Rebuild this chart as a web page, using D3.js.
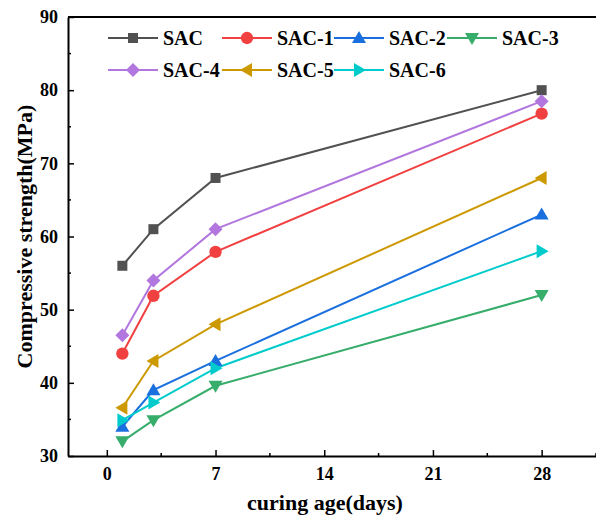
<!DOCTYPE html>
<html>
<head>
<meta charset="utf-8">
<script src="https://cdn.jsdelivr.net/npm/d3@7"></script>
<style>
  body { margin: 0; background: #fff; }
  svg text { font-family: "Liberation Serif", "Times New Roman", serif; font-weight: bold; }
</style>
</head>
<body>
<div id="chart"></div>
<script>
// curing ages (days)
const days = [1, 3, 7, 28];
const seriesNames = ["SAC", "SAC-1", "SAC-2", "SAC-3", "SAC-4", "SAC-5", "SAC-6"];
const sac  = [56, 61, 68, 80];
const sac1 = [44, 51.9, 57.9, 76.8];
const sac2 = [34, 39, 43, 63];
const sac3 = [32, 34.9, 39.6, 52];
const sac4 = [46.5, 54, 61, 78.5];
const sac5 = [36.6, 43, 48, 68];
const sac6 = [34.9, 37.3, 42, 58];
const xTicks = [0, 7, 14, 21, 28];
const yTicks = [30, 40, 50, 60, 70, 80, 90];

const colors = ["#515151", "#F14040", "#1A6FDF", "#37AD6B", "#B177DE", "#CC9900", "#00CBCC"];
const symbols = ["square", "circle", "up", "down", "diamond", "left", "right"];
const allValues = [sac, sac1, sac2, sac3, sac4, sac5, sac6];

const series = seriesNames.map((name, i) => ({
    name: name,
    color: colors[i],
    symbol: symbols[i],
    values: days.map((d, j) => ({ day: d, value: allValues[i][j] }))
}));

const w = 596, h = 518;
const margin = { top: 17, right: 0, bottom: 62, left: 68 };

const svg = d3.select("#chart").append("svg")
    .attr("width", w)
    .attr("height", h);

const xScale = d3.scaleLinear()
    .domain([-2.5, 31.5])
    .range([margin.left, w - margin.right]);
const yScale = d3.scaleLinear()
    .domain([30, 90])
    .range([h - margin.bottom, margin.top]);

// marker shapes
function markerPath(sym) {
    const s = 6;
    switch (sym) {
        case "square": return `M${-5},${-5}H5V5H-5Z`;
        case "circle": return d3.symbol(d3.symbolCircle, 120)();
        case "up": return `M0,${-s - 1}L${s + 1},${s - 1}L${-s - 1},${s - 1}Z`;
        case "down": return `M0,${s + 1}L${s + 1},${-s + 1}L${-s - 1},${-s + 1}Z`;
        case "diamond": return `M0,${-s - 1}L${s + 1},0L0,${s + 1}L${-s - 1},0Z`;
        case "left": return `M${-s - 1},0L${s - 1},${-s - 1}L${s - 1},${s + 1}Z`;
        case "right": return `M${s + 1},0L${-s + 1},${-s - 1}L${-s + 1},${s + 1}Z`;
    }
}

// axes
const xAxis = d3.axisBottom(xScale).tickValues(xTicks).tickSizeInner(-6).tickSizeOuter(0).tickPadding(11);
const yAxis = d3.axisLeft(yScale).tickValues(yTicks).tickSizeInner(-6).tickSizeOuter(0).tickPadding(10);

const xAxisG = svg.append("g")
    .attr("transform", `translate(0,${h - margin.bottom})`)
    .call(xAxis);
const yAxisG = svg.append("g")
    .attr("transform", `translate(${margin.left},0)`)
    .call(yAxis);

// minor ticks
svg.append("g").selectAll("line")
    .data([3.5, 10.5, 17.5, 24.5, 31.5])
    .enter().append("line")
    .attr("x1", d => xScale(d)).attr("x2", d => xScale(d))
    .attr("y1", h - margin.bottom).attr("y2", h - margin.bottom - 3)
    .attr("stroke", "#000").attr("stroke-width", 1.5);
svg.append("g").selectAll("line")
    .data([35, 45, 55, 65, 75, 85])
    .enter().append("line")
    .attr("x1", margin.left).attr("x2", margin.left + 3)
    .attr("y1", d => yScale(d)).attr("y2", d => yScale(d))
    .attr("stroke", "#000").attr("stroke-width", 1.5);

[xAxisG, yAxisG].forEach(g => {
    g.select(".domain").attr("stroke-width", 2);
    g.selectAll(".tick line").attr("stroke-width", 1.5);
    g.selectAll(".tick text")
        .style("font-size", "18px")
        .style("font-family", "Liberation Serif")
        .style("font-weight", "bold")
        .attr("fill", "#000");
});

// top frame line
svg.append("line")
    .attr("x1", margin.left).attr("x2", w)
    .attr("y1", margin.top).attr("y2", margin.top)
    .attr("stroke", "#000").attr("stroke-width", 2);

// axis titles
svg.append("text")
    .attr("x", 325)
    .attr("y", 510)
    .attr("text-anchor", "middle")
    .style("font-size", "22px")
    .text("curing age(days)");
svg.append("text")
    .attr("transform", `translate(32,${yScale(60)}) rotate(-90)`)
    .attr("text-anchor", "middle")
    .style("font-size", "22px")
    .text("Compressive strength(MPa)");

// lines and markers
const lineGenerator = d3.line()
    .x(d => xScale(d.day))
    .y(d => yScale(d.value));

const g = svg.append("g");
series.forEach(s => {
    g.append("path")
        .attr("d", lineGenerator(s.values))
        .attr("fill", "none")
        .attr("stroke", s.color)
        .attr("stroke-width", 2);
});
series.forEach(s => {
    g.selectAll(null)
        .data(s.values)
        .enter()
        .append("path")
        .attr("d", markerPath(s.symbol))
        .attr("transform", d => `translate(${xScale(d.day)},${yScale(d.value)})`)
        .attr("fill", s.color);
});

// legend
const legendPos = [[108, 38], [222, 38], [334, 38], [447, 38], [108, 70], [222, 70], [334, 70]];
series.forEach((s, i) => {
    const [lx, ly] = legendPos[i];
    const lg = svg.append("g").attr("transform", `translate(${lx},${ly})`);
    lg.append("line")
        .attr("x1", 0).attr("x2", 50)
        .attr("stroke", s.color).attr("stroke-width", 2);
    lg.append("path")
        .attr("d", markerPath(s.symbol))
        .attr("transform", "translate(25,0)")
        .attr("fill", s.color);
    lg.append("text")
        .attr("x", 55)
        .attr("y", 7)
        .style("font-size", "20px")
        .text(s.name);
});
</script>
</body>
</html>
